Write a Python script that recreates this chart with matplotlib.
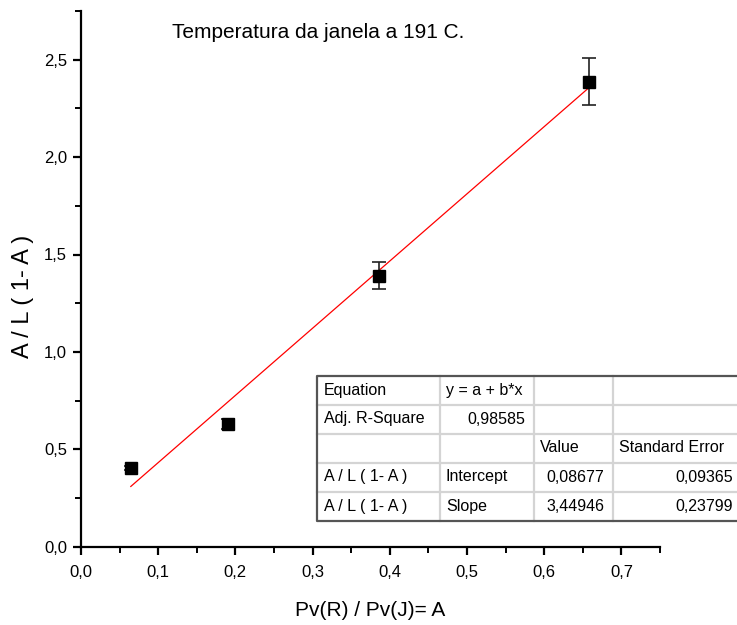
import matplotlib
matplotlib.use("Agg")
import matplotlib.pyplot as plt
import numpy as np
from matplotlib.ticker import FuncFormatter, MultipleLocator

plt.rcParams["font.family"] = ["Liberation Sans", "DejaVu Sans"]

# dados
x_vals = [0.0645, 0.191, 0.3866, 0.658]
y_vals = [0.403, 0.631, 1.392, 2.387]
y_err = [0.01, 0.025, 0.068, 0.12]

# ajuste linear (valores da tabela)
intercept = 0.08677
slope = 3.44946

table_rows = [
    ["Equation", "y = a + b*x", "", ""],
    ["Adj. R-Square", "0,98585", "", ""],
    ["", "", "Value", "Standard Error"],
    ["A / L ( 1- A )", "Intercept", "0,08677", "0,09365"],
    ["A / L ( 1- A )", "Slope", "3,44946", "0,23799"],
]

W, H = 737, 625
fig = plt.figure(figsize=(W / 100, H / 100), dpi=100)
ax = fig.add_axes([81 / W, 1 - 546.7 / H, (660 - 81) / W, (546.7 - 11) / H])

ax.errorbar(x_vals, y_vals, yerr=y_err, fmt="s", color="black", ms=8.5,
            ecolor="#222222", elinewidth=1.2, capsize=5, capthick=1.2, zorder=3)

xf = np.array([min(x_vals), max(x_vals)])
ax.plot(xf, intercept + slope * xf, color="red", lw=0.9, zorder=2)

ax.set_xlim(0, 0.75)
ax.set_ylim(0, 2.75)
ax.xaxis.set_major_locator(MultipleLocator(0.1))
ax.xaxis.set_minor_locator(MultipleLocator(0.05))
ax.yaxis.set_major_locator(MultipleLocator(0.5))
ax.yaxis.set_minor_locator(MultipleLocator(0.25))
ax.xaxis.set_major_formatter(FuncFormatter(lambda v, p: f"{v:.1f}".replace(".", ",")))
ax.yaxis.set_major_formatter(FuncFormatter(lambda v, p: f"{v:.1f}".replace(".", ",")))

for s in ["top", "right"]:
    ax.spines[s].set_visible(False)
for s in ["left", "bottom"]:
    ax.spines[s].set_linewidth(1.6)
ax.tick_params(which="major", direction="out", length=6, width=1.6, labelsize=12)
ax.tick_params(which="minor", direction="out", length=4, width=1.4)
ax.tick_params(axis="x", pad=7)
ax.tick_params(axis="y", pad=4)

ax.set_xlabel("Pv(R) / Pv(J)= A", fontsize=15, labelpad=15)
fig.text(23 / W, 1 - 296 / H, "A / L ( 1- A )", fontsize=17, rotation=90,
         ha="center", va="center")

fig.text(172 / W, 1 - 32 / H, "Temperatura da janela a 191 C.", fontsize=15, va="center", ha="left")

# tabela do ajuste
tab = fig.add_axes([0, 0, 1, 1])
tab.set_xlim(0, W)
tab.set_ylim(H, 0)
tab.axis("off")
tab.patch.set_alpha(0)

left, right = 317, 745
row_y = [376, 404.5, 433.5, 462.5, 491.5, 521]
col_x = [317, 440.5, 534, 613, 745]
tab.fill_between([left, right], row_y[0], row_y[-1], color="white", zorder=0)
for y in row_y[1:-1]:
    tab.plot([left, right], [y, y], color="#d4d4d4", lw=1.6)
for x in col_x[1:-1]:
    tab.plot([x, x], [row_y[0], row_y[-1]], color="#d4d4d4", lw=1.6)
tab.plot([right, left, left, right], [row_y[0], row_y[0], row_y[-1], row_y[-1]],
         color="#555555", lw=1.6)

# posições de texto: coluna 0/1/2/3, esquerda ou direita
text_left = [324, 446, 540, 619]
text_right = [None, 525, 604, 733]
for i, row in enumerate(table_rows):
    yc = (row_y[i] + row_y[i + 1]) / 2
    for j, txt in enumerate(row):
        if not txt:
            continue
        numeric = txt[0].isdigit()
        if numeric and text_right[j] is not None:
            tab.text(text_right[j], yc, txt, ha="right", va="center", fontsize=11.5)
        else:
            tab.text(text_left[j], yc, txt, ha="left", va="center", fontsize=11.5)

fig.savefig("out.png", dpi=100)
